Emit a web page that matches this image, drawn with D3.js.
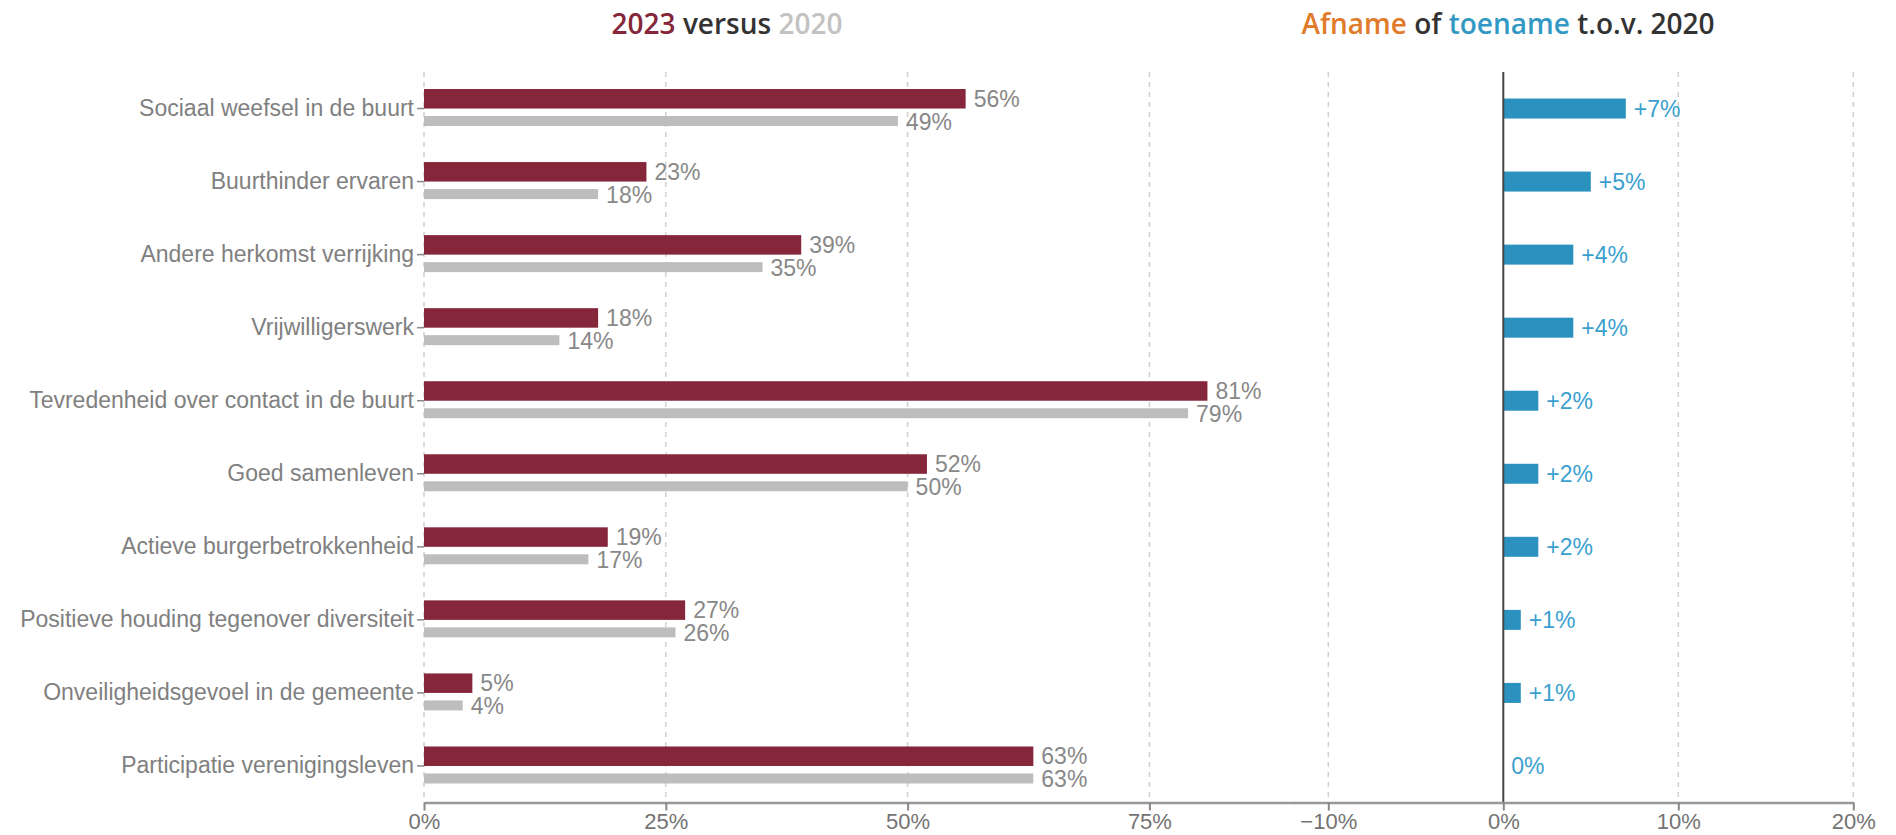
<!DOCTYPE html>
<html><head><meta charset="utf-8">
<script src="https://cdn.jsdelivr.net/npm/d3@7"></script>
<style>
html,body{margin:0;padding:0;background:#fff;}
svg{display:block;}
</style></head>
<body>
<svg id="chart" width="1896" height="835"></svg>
<script>
const categories = [
  "Sociaal weefsel in de buurt",
  "Buurthinder ervaren",
  "Andere herkomst verrijking",
  "Vrijwilligerswerk",
  "Tevredenheid over contact in de buurt",
  "Goed samenleven",
  "Actieve burgerbetrokkenheid",
  "Positieve houding tegenover diversiteit",
  "Onveiligheidsgevoel in de gemeente",
  "Participatie verenigingsleven"
];
const values2023 = [56, 23, 39, 18, 81, 52, 19, 27, 5, 63];
const values2020 = [49, 18, 35, 14, 79, 50, 17, 26, 4, 63];
const change = [7, 5, 4, 4, 2, 2, 2, 1, 1, 0];
const leftTicks = [0, 25, 50, 75];
const rightTicks = [-10, 0, 10, 20];

(function(){
const svg = d3.select("#chart");
const FONT = "'Liberation Sans', Arial, sans-serif";
const TFONT = "'Open Sans', 'Noto Sans', sans-serif";
const plotTop = 72, plotBottom = 802.5;

const y = d3.scaleBand().domain(categories).range([plotTop, plotBottom]).padding(0);
const xL = d3.scaleLinear().domain([0, 90]).range([424, 424 + 90 * 9.672]);
const xR = d3.scaleLinear().domain([-12, 20]).range([1503.3 - 12 * 17.5, 1503.3 + 20 * 17.5]);

const rows = categories.map((c, i) => ({c, a: values2023[i], b: values2020[i], d: change[i]}));
const cy = c => y(c) + y.bandwidth() / 2;

// gridlines
const grid = svg.append("g");
grid.selectAll("line.gl").data(leftTicks).join("line").attr("class", "gl")
  .attr("x1", d => xL(d)).attr("x2", d => xL(d))
  .attr("y1", plotTop).attr("y2", plotBottom)
  .attr("stroke", "#cfcfcf").attr("stroke-width", 1.5).attr("stroke-dasharray", "5,5");
grid.selectAll("line.gr").data(rightTicks.filter(d => d !== 0)).join("line").attr("class", "gr")
  .attr("x1", d => xR(d)).attr("x2", d => xR(d))
  .attr("y1", plotTop).attr("y2", plotBottom)
  .attr("stroke", "#cfcfcf").attr("stroke-width", 1.5).attr("stroke-dasharray", "5,5");

// left bars
svg.append("g").selectAll("rect").data(rows).join("rect")
  .attr("x", xL(0)).attr("y", d => cy(d.c) - 19.5)
  .attr("width", d => xL(d.a) - xL(0)).attr("height", 19.5)
  .attr("fill", "#85263a");
svg.append("g").selectAll("rect").data(rows).join("rect")
  .attr("x", xL(0)).attr("y", d => cy(d.c) + 7.5)
  .attr("width", d => xL(d.b) - xL(0)).attr("height", 10)
  .attr("fill", "#bdbdbd");

// left value labels
svg.append("g").selectAll("text").data(rows).join("text")
  .attr("x", d => xL(d.a) + 8).attr("y", d => cy(d.c) - 9.5)
  .attr("dominant-baseline", "central")
  .attr("font-family", FONT).attr("font-size", 23).attr("fill", "#888")
  .text(d => d.a + "%");
svg.append("g").selectAll("text").data(rows).join("text")
  .attr("x", d => xL(d.b) + 8).attr("y", d => cy(d.c) + 13.5)
  .attr("dominant-baseline", "central")
  .attr("font-family", FONT).attr("font-size", 23).attr("fill", "#888")
  .text(d => d.b + "%");

// right bars
svg.append("g").selectAll("rect").data(rows).join("rect")
  .attr("x", d => xR(Math.min(0, d.d))).attr("y", d => cy(d.c) - 10)
  .attr("width", d => Math.abs(xR(d.d) - xR(0))).attr("height", 20)
  .attr("fill", d => d.d >= 0 ? "#2b92bf" : "#e07b2a");
svg.append("g").selectAll("text").data(rows).join("text")
  .attr("x", d => xR(Math.max(0, d.d)) + 8).attr("y", d => cy(d.c))
  .attr("dominant-baseline", "central")
  .attr("font-family", FONT).attr("font-size", 23)
  .attr("fill", d => d.d >= 0 ? "#3a9fcf" : "#e07b2a")
  .text(d => (d.d > 0 ? "+" : "") + d.d + "%");

// zero line right
svg.append("line")
  .attr("x1", xR(0)).attr("x2", xR(0)).attr("y1", plotTop).attr("y2", plotBottom)
  .attr("stroke", "#444").attr("stroke-width", 2);

// y axis
const yAxis = svg.append("g").attr("transform", `translate(${xL(0)},0)`)
  .call(d3.axisLeft(y).tickSize(7).tickPadding(3).tickSizeOuter(0));
yAxis.select(".domain").remove();
yAxis.selectAll("line").attr("stroke", "#888").attr("stroke-width", 1.5);
yAxis.selectAll("text").attr("font-family", FONT).attr("font-size", 23).attr("fill", "#808080");

// bottom axes
function styleX(g) {
  g.select(".domain").attr("stroke", "#999").attr("stroke-width", 2.5);
  g.selectAll(".tick line").attr("stroke", "#888").attr("stroke-width", 2);
  g.selectAll("text").attr("font-family", FONT).attr("font-size", 22).attr("fill", "#737373");
}
const fmt = d3.format(".0%");
const gxL = svg.append("g").attr("transform", `translate(0,${plotBottom})`)
  .call(d3.axisBottom(xL).tickValues(leftTicks).tickFormat(d => fmt(d / 100)).tickSize(8).tickPadding(3).tickSizeOuter(0));
styleX(gxL);
const gxR = svg.append("g").attr("transform", `translate(0,${plotBottom})`)
  .call(d3.axisBottom(xR).tickValues(rightTicks).tickFormat(d => fmt(d / 100)).tickSize(8).tickPadding(3).tickSizeOuter(0));
styleX(gxR);

// titles
const t1 = svg.append("text").attr("x", 727).attr("y", 34).attr("text-anchor", "middle")
  .attr("font-family", TFONT).attr("font-size", 28).attr("font-weight", 600);
t1.append("tspan").attr("fill", "#85263a").text("2023");
t1.append("tspan").attr("fill", "#333").text(" versus ");
t1.append("tspan").attr("fill", "#c2c2c2").text("2020");

const t2 = svg.append("text").attr("x", 1508).attr("y", 34).attr("text-anchor", "middle")
  .attr("font-family", TFONT).attr("font-size", 28).attr("font-weight", 600);
t2.append("tspan").attr("fill", "#e07b2a").text("Afname");
t2.append("tspan").attr("fill", "#333").text(" of ");
t2.append("tspan").attr("fill", "#3399c4").text("toename");
t2.append("tspan").attr("fill", "#333").text(" t.o.v. 2020");
})();
</script>
</body></html>
